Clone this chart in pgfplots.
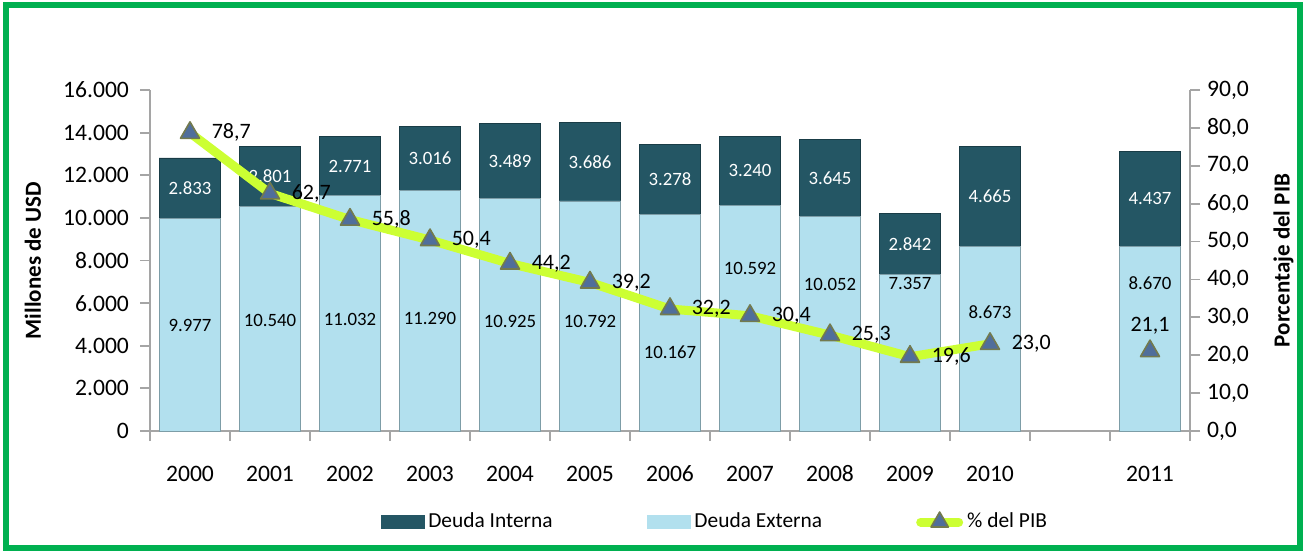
\documentclass[border=0pt]{standalone}
\usepackage{fontspec}
\setmainfont{Carlito}
\usepackage{pgfplots}
\pgfplotsset{compat=1.18}

\definecolor{interna}{RGB}{36,86,100}
\definecolor{externa}{RGB}{178,224,238}
\definecolor{pibline}{RGB}{204,255,51}
\definecolor{frameg}{RGB}{0,176,80}
\definecolor{axgray}{RGB}{165,165,165}
\definecolor{trifill}{RGB}{80,110,155}
\definecolor{triedge}{RGB}{115,122,78}

\newcommand{\tickfont}{\fontsize{11.8}{14}\selectfont}
\newcommand{\legfont}{\fontsize{10.7}{13}\selectfont}
\newcommand{\barfont}{\fontsize{9.4}{11}\selectfont}
\newcommand{\pibfont}{\fontsize{11}{13}\selectfont}
\newcommand{\labfont}{\bfseries\fontsize{11.5}{13}\selectfont}

% label positions for the bar segments (y = where the text sits)
\pgfplotstableread{
x   y      lab
0   11394  2.833
1   11941  2.801
2   12418  2.771
3   12798  3.016
4   12670  3.489
5   12635  3.686
6   11806  3.278
7   12212  3.240
8   11875  3.645
9   8778   2.842
10  11006  4.665
12  10889  4.437
}\internalabels
\pgfplotstableread{
x   y      lab
0   4974   9.977
1   5208   10.540
2   5255   11.032
3   5302   11.290
4   5161   10.925
5   5161   10.792
6   3707   10.167
7   7648   10.592
8   6897   10.052
9   6944   7.357
10  5584   8.673
12  6944   8.670
}\externalabels

\pgfplotsset{
  base/.style={
    at={(75pt,60.5pt)}, anchor=south west,
    scale only axis, width=520pt, height=170.5pt,
    xmin=-0.5, xmax=12.5,
    axis line style={axgray, line width=0.9pt, -},
    tick style={axgray, line width=0.9pt},
    tick align=outside,
    major tick length=5pt,
    minor tick length=5pt,
    ticklabel style={font=\tickfont},
    /pgf/number format/assume math mode=true,
    clip=false,
  },
}

\begin{document}
\begin{tikzpicture}
\useasboundingbox (0,0) rectangle (653pt,276pt);
\fill[white] (0,0) rectangle (653pt,276pt);
\draw[frameg, line width=3pt] (3pt,2pt) rectangle (650pt,273.3pt);

% stacked bars, left axis
\begin{axis}[base,
  ymin=0, ymax=16000,
  axis x line*=bottom, axis y line*=left,
  ybar stacked, bar width=0.77,
  xtick={0,1,2,3,4,5,6,7,8,9,10,12},
  xticklabels={2000,2001,2002,2003,2004,2005,2006,2007,2008,2009,2010,2011},
  major x tick style={draw=none},
  minor xtick={-0.5,0.5,...,12.5},
  xticklabel style={yshift=-9pt, text height=1.6ex, text depth=0.2ex},
  ytick={0,2000,...,16000},
  scaled y ticks=false,
  yticklabel style={xshift=-2pt, /pgf/number format/.cd, 1000 sep={.}},
  every axis y label/.style={at={(axis description cs:-0.1125,0.5)}, rotate=90, anchor=center, font=\labfont},
  ylabel={Millones de USD},
]
\addplot[fill=externa, draw=externa!70!black, line width=0.4pt] coordinates {
  (0,9977) (1,10540) (2,11032) (3,11290) (4,10925) (5,10792)
  (6,10167) (7,10592) (8,10052) (9,7357) (10,8673) (12,8670)};
\addplot[fill=interna, draw=interna!70!black, line width=0.4pt] coordinates {
  (0,2833) (1,2801) (2,2771) (3,3016) (4,3489) (5,3686)
  (6,3278) (7,3240) (8,3645) (9,2842) (10,4665) (12,4437)};
\end{axis}

% value labels inside the bars
\begin{axis}[base, hide axis, ymin=0, ymax=16000]
\addplot[draw=none, mark=none, nodes near coords, point meta=explicit symbolic,
  every node near coord/.append style={anchor=center, font=\barfont, text=white}]
  table[x=x, y=y, meta=lab] {\internalabels};
\addplot[draw=none, mark=none, nodes near coords, point meta=explicit symbolic,
  every node near coord/.append style={anchor=center, font=\barfont, text=black}]
  table[x=x, y=y, meta=lab] {\externalabels};
\end{axis}

% percentage of GDP, right axis
\begin{axis}[base,
  ymin=0, ymax=90,
  axis y line*=right, axis x line=none,
  ytick={0,10,...,90},
  yticklabel style={xshift=0pt, /pgf/number format/.cd, fixed, fixed zerofill, precision=1, use comma},
  every axis y label/.style={at={(axis description cs:1.09,0.5)}, rotate=90, anchor=center, font=\labfont},
  ylabel={Porcentaje del PIB},
  legend style={at={(axis description cs:0.544,-0.267)}, anchor=center,
    draw=none, fill=none, font=\legfont, legend columns=-1,
    /tikz/every even column/.append style={column sep=45pt}},
  legend cell align=left,
  pibstyle/.style={pibline, line width=4.5pt, line cap=round, line join=round,
    mark=triangle*, mark size=5.5pt,
    mark options={solid, fill=trifill, draw=triedge, line width=0.8pt}},
]
\addlegendimage{legend image code/.code={\fill[interna] (0pt,-3.3pt) rectangle (21.5pt,3.3pt);}}
\addlegendentry{Deuda Interna}
\addlegendimage{legend image code/.code={\fill[externa] (0pt,-3.3pt) rectangle (21.5pt,3.3pt);}}
\addlegendentry{Deuda Externa}
\addlegendimage{pibstyle, mark size=5pt,
  legend image code/.code={\draw[mark repeat=2,mark phase=2] plot coordinates {(2.2pt,0pt)(11.7pt,0pt)(21.2pt,0pt)};}}
\addlegendentry{\% del PIB}

\addplot[pibstyle, forget plot,
  nodes near coords={\pgfmathprintnumber[fixed,fixed zerofill,precision=1,use comma]{\pgfplotspointmeta}},
  point meta=y,
  every node near coord/.append style={anchor=west, xshift=9.5pt, text=black, font=\pibfont, inner sep=1pt}]
  coordinates {(0,78.7) (1,62.7) (2,55.8) (3,50.4) (4,44.2) (5,39.2)
    (6,32.2) (7,30.4) (8,25.3) (9,19.6) (10,23.0)};
\addplot[pibstyle, only marks, forget plot,
  nodes near coords={\pgfmathprintnumber[fixed,fixed zerofill,precision=1,use comma]{\pgfplotspointmeta}},
  point meta=y,
  every node near coord/.append style={anchor=south, yshift=7pt, text=black, font=\pibfont, inner sep=1pt}]
  coordinates {(12,21.1)};
\end{axis}
\end{tikzpicture}
\end{document}
